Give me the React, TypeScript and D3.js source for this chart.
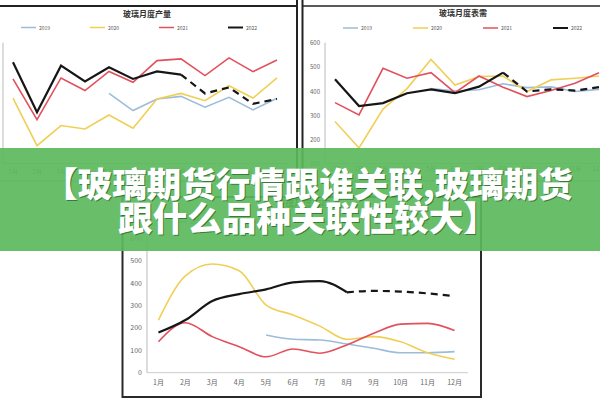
import * as d3 from "d3";

// 月份与年份
const months = ["1月", "2月", "3月", "4月", "5月", "6月", "7月", "8月", "9月", "10月", "11月", "12月"];
const years = ["2019", "2020", "2021", "2022"];
const colors = ["#9dbcda", "#f0cf55", "#e2505d", "#161616"];

// 玻璃月度产量
const output2019 = [null, null, null, null, 390, 319, 367, 378, 333, 374, 322, 370];
const output2020 = [371, 174, 257, 243, 301, 246, 367, 390, 360, 422, 371, 454];
const output2021 = [450, 281, 454, 402, 481, 436, 526, 533, 464, 537, 480, 528];
const output2022 = [519, 312, 505, 440, 498, 450, 481, 468, 390, 415, 347, 367];

// 玻璃月度表需
const demand2019 = [null, null, null, null, 410, 400, 405, 430, 414, 417, 398, 407];
const demand2020 = [274, 164, 325, 410, 531, 425, 460, 462, 398, 446, 453, 462];
const demand2021 = [352, 301, 494, 453, 476, 393, 462, 416, 377, 402, 432, 476];
const demand2022 = [449, 338, 350, 391, 407, 391, 418, 476, 398, 407, 402, 416];

// 玻璃月度库存
const stock2019 = [null, null, null, null, 168, 149, 146, 128, 109, 89, 89, 94];
const stock2020 = [235, 432, 485, 455, 302, 258, 208, 149, 161, 138, 89, 60];
const stock2021 = [138, 223, 161, 116, 71, 106, 87, 124, 176, 217, 220, 188];
const stock2022 = [179, 235, 320, 351, 372, 403, 409, 359, 365, 362, 354, 342];

const topTicks = [100, 200, 300, 400, 500, 600];
const bottomTicks = [0, 100, 200, 300, 400, 500, 600];

const bannerLines = ["【玻璃期货行情跟谁关联,玻璃期货", "跟什么品种关联性较大】"];

const font = "'Noto Sans CJK SC', 'DejaVu Sans', sans-serif";

type Series = (number | null)[];

function Chart({ title, titleX, titleY, series, x, y, ticks, showYLabels, curve, legendX, legendStep, legendY, labelY, fontSize }: any) {
  const line = d3
    .line<number | null>()
    .defined(d => d != null)
    .x((_, i) => (x(months[i]) as number) + x.bandwidth() / 2)
    .y(d => y(d as number))
    .curve(curve);
  const [x0, x1] = x.range();
  const [yb, yt] = y.range();
  const axisX = x0 + 2;
  return (
    <g>
      <text x={titleX} y={titleY} textAnchor="middle" fontSize={fontSize + 2} fontWeight="bold" fill="#333" fontFamily={font}>
        {title}
      </text>
      {years.map((yr, i) => (
        <g key={yr}>
          <line x1={legendX + i * legendStep} x2={legendX + i * legendStep + 15} y1={legendY} y2={legendY} stroke={colors[i]} strokeWidth={i === 3 ? 2 : 1.5} />
          <text x={legendX + i * legendStep + 18} y={legendY + 2} fontSize={fontSize - 1} fill="#555" fontFamily={font}>{yr}</text>
        </g>
      ))}
      <line x1={axisX} x2={axisX} y1={yt} y2={yb} stroke="#bbb" strokeWidth={1} />
      <line x1={axisX} x2={x1} y1={yb} y2={yb} stroke="#ccc" strokeWidth={1} />
      {showYLabels &&
        ticks.map((t: number) => (
          <text key={t} x={axisX - 5} y={y(t) + 2.5} textAnchor="end" fontSize={fontSize} fill="#666" fontFamily={font}>{t}</text>
        ))}
      {months.map(m => (
        <text key={m} x={(x(m) as number) + x.bandwidth() / 2} y={labelY} textAnchor="middle" fontSize={fontSize} fill="#666" fontFamily={font}>{m}</text>
      ))}
      {series.map((s: Series, i: number) => {
        if (i < 3) {
          return <path key={i} d={line(s) || ""} fill="none" stroke={colors[i]} strokeWidth={1.6} />;
        }
        // 2022年8月之后为预测，虚线
        const solid = s.map((v, j) => (j <= 7 ? v : null));
        const dashed = s.map((v, j) => (j >= 7 ? v : null));
        return (
          <g key={i}>
            <path d={line(solid) || ""} fill="none" stroke={colors[i]} strokeWidth={2.2} />
            <path d={line(dashed) || ""} fill="none" stroke={colors[i]} strokeWidth={2.2} strokeDasharray="7 5" />
          </g>
        );
      })}
    </g>
  );
}

export default function App() {
  const topY = d3.scaleLinear().domain([100, 600]).range([163.5, 42.7]);
  const leftX = d3.scaleBand().domain(months).range([1, 289]);
  const rightX = d3.scaleBand().domain(months).range([323, 611]);
  const bottomX = d3.scaleBand().domain(months).range([145, 468]);
  const bottomY = d3.scaleLinear().domain([0, 600]).range([372.7, 238.3]);

  return (
    <svg width={600} height={400} style={{ position: "absolute", left: 0, top: 0, background: "#fff" }}>
      <rect width={600} height={400} fill="#fff" />
      {/* 左上 */}
      <Chart title="玻璃月度产量" titleX={147} titleY={17} series={[output2019, output2020, output2021, output2022]} x={leftX} y={topY}
        ticks={topTicks} showYLabels={false} curve={d3.curveLinear} legendX={21} legendStep={69} legendY={27.5} labelY={174} fontSize={6} />
      <line x1={0} x2={297} y1={6} y2={6} stroke="#222" strokeWidth={2} />
      <line x1={297} x2={297} y1={0} y2={182} stroke="#222" strokeWidth={2} />
      <line x1={0} x2={297} y1={181} y2={181} stroke="#999" strokeWidth={1} />
      {/* 右上 */}
      <Chart title="玻璃月度表需" titleX={463} titleY={16} series={[demand2019, demand2020, demand2021, demand2022]} x={rightX} y={topY}
        ticks={topTicks} showYLabels={true} curve={d3.curveLinear} legendX={343} legendStep={70} legendY={28} labelY={171} fontSize={6} />
      <line x1={302} x2={600} y1={6} y2={6} stroke="#222" strokeWidth={1.5} />
      <line x1={302.5} x2={302.5} y1={0} y2={182} stroke="#222" strokeWidth={2} />
      <line x1={302} x2={600} y1={181} y2={181} stroke="#999" strokeWidth={1} />
      {/* 下方 */}
      <rect x={122.5} y={197} width={358.5} height={200} fill="#fff" stroke="#2a2a2a" strokeWidth={2} />
      <Chart title="玻璃月度库存" titleX={303} titleY={207} series={[stock2019, stock2020, stock2021, stock2022]} x={bottomX} y={bottomY}
        ticks={bottomTicks} showYLabels={true} curve={d3.curveMonotoneX} legendX={172} legendStep={75} legendY={222} labelY={385} fontSize={7} />
      {/* 横幅 */}
      <rect x={0} y={148} width={600} height={103} fill="#5cb85c" fillOpacity={0.92} />
      {bannerLines.map((t, i) => (
        <g key={i} fontFamily={font} fontWeight={900} fontSize={34.5} textAnchor="middle">
          <text x={309} y={198 + i * 34} fill="rgba(0,40,0,0.45)">{t}</text>
          <text x={308} y={197 + i * 34} fill="#fff">{t}</text>
        </g>
      ))}
    </svg>
  );
}
